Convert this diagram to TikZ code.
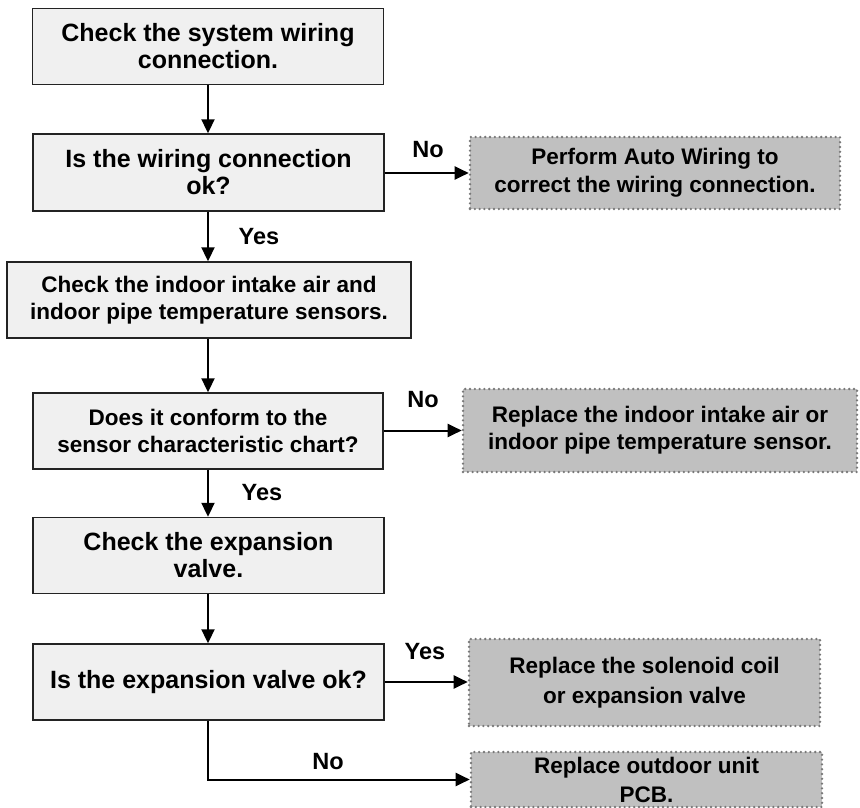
\documentclass[tikz,border=0pt]{standalone}
\usepackage{fontspec}
\setmainfont{Liberation Sans}
\usetikzlibrary{arrows.meta}
\definecolor{stepfill}{RGB}{240,240,240}
\definecolor{stepstroke}{RGB}{35,35,35}
\definecolor{fixfill}{RGB}{192,192,192}
\definecolor{fixstroke}{RGB}{120,120,120}
\tikzset{
  stepbox/.style={draw=stepstroke, fill=stepfill, line width=1.4pt,
                  minimum width=351pt, minimum height=76pt,
                  inner sep=0pt, align=center,
                  font=\fontsize{25}{27}\selectfont\bfseries},
  stepbox small/.style={stepbox, font=\fontsize{22.5}{27.5}\selectfont\bfseries},
  fixbox/.style={draw=fixstroke, fill=fixfill, line width=2.6pt,
                 dash pattern=on 0pt off 4.8pt, line cap=round,
                 inner sep=0pt, align=center,
                 font=\fontsize{22.5}{28}\selectfont\bfseries},
  flowarrow/.style={line width=2pt, -{Triangle[length=14pt,width=13pt]}},
  answer/.style={font=\fontsize{23.5}{26}\selectfont\bfseries, inner sep=0pt},
}
\begin{document}
\begin{tikzpicture}[x=1pt, y=-1pt]
\useasboundingbox (0,0) rectangle (860,808);
% main column of checks and questions
\node[stepbox] (s1) at (208,46.5) {Check the system wiring\\connection.};
\node[stepbox, minimum height=77pt] (s2) at (208.5,172.5) {Is the wiring connection\\ok?};
\node[stepbox small, minimum width=404pt] (s3) at (209,300)
  {Check the indoor intake air and\\indoor pipe temperature sensors.};
\node[stepbox small, minimum width=350pt] (s4) at (208,431)
  {Does it conform to the\\sensor characteristic chart?};
\node[stepbox] (s5) at (208.5,555.5) {Check the expansion\\valve.};
\node[stepbox] (s6) at (208.5,682) {Is the expansion valve ok?};
% remedies on the right
\node[fixbox, minimum width=370pt, minimum height=72pt] (f1) at (655,173)
  {Perform Auto Wiring to\\correct the wiring connection.};
\node[fixbox, font=\fontsize{22.5}{27}\selectfont\bfseries,
      minimum width=394pt, minimum height=83pt] (f2) at (660,430.5)
  {Replace the indoor intake air or\\indoor pipe temperature sensor.};
\node[fixbox, font=\fontsize{22.5}{30}\selectfont\bfseries,
      minimum width=351pt, minimum height=87pt] (f3) at (644.5,682.5)
  {Replace the solenoid coil\\or expansion valve};
\node[fixbox, font=\fontsize{22.5}{29}\selectfont\bfseries,
      minimum width=351pt, minimum height=55pt] (f4) at (646.5,779.5)
  {Replace outdoor unit\\PCB.};
% branch labels
\node[answer] (no1) at (428,150) {No};
\node[answer] (yes1) at (259,237) {Yes};
\node[answer] (no2) at (423,400) {No};
\node[answer] (yes2) at (262,493) {Yes};
\node[answer] (yes3) at (425,652) {Yes};
\node[answer] (no3) at (328,762) {No};
% connectors
\foreach \a/\b in {s1/s2, s2/s3, s3/s4, s4/s5, s5/s6}
  \draw[flowarrow] (\a.south -| s1) -- (\b.north -| s1);
\draw[flowarrow] (s2.east |- f1) -- (f1.west);
\draw[flowarrow] (s4.east |- f2) -- (f2.west);
\draw[flowarrow] (s6.east) -- (f3.west |- s6.east);
\coordinate (bend) at (s6.south -| s1);
\draw[flowarrow] (bend) |- (f4.west);
\end{tikzpicture}
\end{document}
